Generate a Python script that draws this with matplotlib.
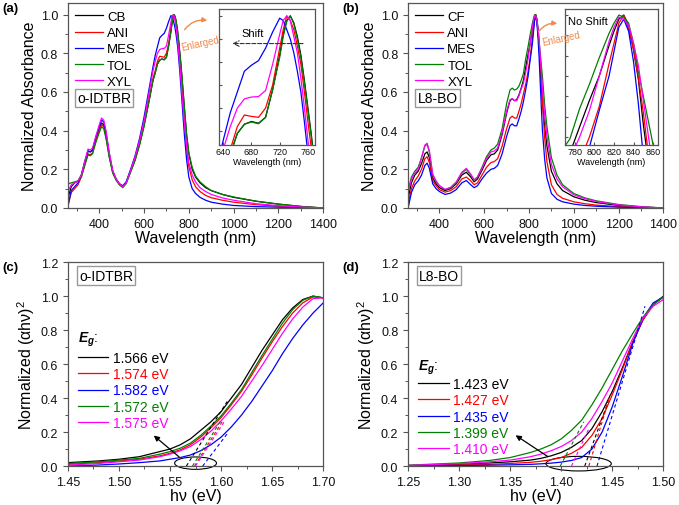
import matplotlib.pyplot as plt
from matplotlib.patches import Ellipse, FancyArrowPatch
from matplotlib.ticker import MultipleLocator, FormatStrFormatter

plt.rcParams['font.family'] = ['Liberation Sans', 'DejaVu Sans']
plt.rcParams['mathtext.fontset'] = 'custom'
plt.rcParams['mathtext.rm'] = 'Liberation Sans'
plt.rcParams['mathtext.it'] = 'Liberation Sans:italic'
plt.rcParams['mathtext.bf'] = 'Liberation Sans:bold:italic'

# ---- (a) o-IDTBR absorption ----
wl_a = [262, 275, 290, 305, 320, 335, 350, 360, 370, 385,
        400, 410, 420, 430, 445, 460, 475, 490, 505, 520,
        540, 560, 580, 600, 620, 640, 650, 660, 670, 680,
        690, 700, 710, 720, 725, 730, 735, 740, 745, 750,
        755, 760, 765, 770, 780, 790, 800, 815, 830, 850,
        875, 900, 950, 1000, 1100, 1200, 1300, 1400]
cb_a = [0.06, 0.11, 0.13, 0.14, 0.17, 0.24, 0.295, 0.29, 0.30, 0.36,
        0.41, 0.44, 0.43, 0.38, 0.27, 0.19, 0.15, 0.125, 0.11, 0.13,
        0.19, 0.25, 0.33, 0.43, 0.54, 0.66, 0.70, 0.745, 0.765, 0.771,
        0.767, 0.78, 0.84, 0.915, 0.96, 0.99, 1.0, 0.985, 0.955, 0.915,
        0.86, 0.80, 0.74, 0.67, 0.52, 0.38, 0.28, 0.20, 0.16, 0.13,
        0.105, 0.09, 0.07, 0.055, 0.035, 0.02, 0.008, 0.0]
ani_a = [0.02, 0.08, 0.10, 0.12, 0.16, 0.22, 0.28, 0.275, 0.285, 0.35,
         0.40, 0.43, 0.42, 0.37, 0.265, 0.185, 0.145, 0.12, 0.11, 0.13,
         0.19, 0.255, 0.335, 0.43, 0.55, 0.67, 0.71, 0.76, 0.785, 0.782,
         0.78, 0.80, 0.85, 0.93, 0.97, 1.0, 0.99, 0.97, 0.935, 0.895,
         0.835, 0.77, 0.71, 0.63, 0.45, 0.31, 0.215, 0.145, 0.11, 0.085,
         0.065, 0.053, 0.04, 0.03, 0.017, 0.009, 0.004, 0.0]
mes_a = [0.02, 0.09, 0.11, 0.13, 0.17, 0.23, 0.295, 0.29, 0.30, 0.37,
         0.42, 0.455, 0.445, 0.39, 0.28, 0.19, 0.15, 0.125, 0.115, 0.135,
         0.20, 0.27, 0.36, 0.47, 0.60, 0.73, 0.79, 0.835, 0.88, 0.893,
         0.903, 0.93, 0.965, 0.995, 0.99, 0.97, 0.95, 0.92, 0.88, 0.835,
         0.77, 0.70, 0.62, 0.54, 0.38, 0.25, 0.16, 0.10, 0.075, 0.055,
         0.04, 0.03, 0.02, 0.013, 0.007, 0.004, 0.002, 0.0]
tol_a = [0.125, 0.13, 0.135, 0.14, 0.16, 0.22, 0.275, 0.27, 0.28, 0.34,
         0.39, 0.42, 0.41, 0.36, 0.26, 0.18, 0.145, 0.12, 0.105, 0.125,
         0.185, 0.245, 0.325, 0.42, 0.54, 0.66, 0.70, 0.745, 0.765, 0.770,
         0.766, 0.78, 0.84, 0.91, 0.955, 0.988, 1.0, 0.983, 0.95, 0.91,
         0.855, 0.795, 0.735, 0.665, 0.52, 0.38, 0.285, 0.21, 0.165, 0.135,
         0.11, 0.09, 0.07, 0.057, 0.035, 0.02, 0.008, 0.0]
xyl_a = [0.09, 0.12, 0.13, 0.14, 0.17, 0.24, 0.305, 0.30, 0.31, 0.37,
         0.43, 0.465, 0.455, 0.40, 0.285, 0.195, 0.15, 0.125, 0.11, 0.13,
         0.195, 0.265, 0.35, 0.45, 0.58, 0.71, 0.76, 0.80, 0.82, 0.824,
         0.825, 0.838, 0.895, 0.96, 0.99, 1.0, 0.99, 0.955, 0.92, 0.865,
         0.80, 0.73, 0.66, 0.58, 0.44, 0.32, 0.235, 0.17, 0.135, 0.105,
         0.085, 0.07, 0.052, 0.04, 0.022, 0.012, 0.005, 0.0]
names_a = ['CB', 'ANI', 'MES', 'TOL', 'XYL']

# ---- (b) L8-BO absorption ----
wl_b = [262, 275, 290, 305, 320, 335, 345, 355, 370, 385,
        400, 425, 450, 475, 500, 520, 540, 555, 570, 590,
        610, 630, 645, 660, 680, 700, 715, 725, 735, 745,
        755, 765, 775, 785, 795, 805, 815, 820, 825, 830,
        835, 840, 845, 850, 855, 860, 870, 880, 900, 925,
        950, 1000, 1050, 1100, 1200, 1300, 1400]
cf_b = [0.06, 0.13, 0.17, 0.19, 0.23, 0.28, 0.29, 0.26, 0.155, 0.125,
        0.105, 0.09, 0.10, 0.125, 0.17, 0.185, 0.16, 0.135, 0.15, 0.195,
        0.245, 0.275, 0.28, 0.30, 0.38, 0.49, 0.555, 0.565, 0.555, 0.56,
        0.585, 0.62, 0.66, 0.725, 0.79, 0.85, 0.925, 0.96, 0.99, 1.0,
        0.975, 0.915, 0.84, 0.73, 0.64, 0.55, 0.42, 0.32, 0.19, 0.125,
        0.09, 0.058, 0.04, 0.028, 0.013, 0.005, 0.0]
ani_b = [0.03, 0.10, 0.14, 0.165, 0.20, 0.255, 0.265, 0.235, 0.14, 0.115,
         0.095, 0.082, 0.09, 0.11, 0.15, 0.16, 0.14, 0.12, 0.13, 0.17,
         0.21, 0.235, 0.24, 0.255, 0.32, 0.41, 0.465, 0.475, 0.465, 0.465,
         0.50, 0.54, 0.59, 0.64, 0.70, 0.775, 0.88, 0.93, 0.98, 1.0,
         0.965, 0.915, 0.845, 0.76, 0.66, 0.55, 0.36, 0.24, 0.12, 0.07,
         0.05, 0.032, 0.022, 0.015, 0.007, 0.003, 0.0]
mes_b = [0.01, 0.08, 0.12, 0.14, 0.17, 0.22, 0.232, 0.205, 0.125, 0.10,
         0.085, 0.07, 0.077, 0.095, 0.13, 0.142, 0.12, 0.105, 0.115, 0.15,
         0.18, 0.20, 0.205, 0.22, 0.28, 0.37, 0.425, 0.435, 0.425, 0.425,
         0.46, 0.50, 0.55, 0.61, 0.675, 0.765, 0.85, 0.91, 0.97, 0.99,
         0.96, 0.885, 0.78, 0.65, 0.52, 0.40, 0.25, 0.155, 0.075, 0.045,
         0.032, 0.02, 0.013, 0.009, 0.004, 0.002, 0.0]
tol_b = [0.10, 0.16, 0.19, 0.21, 0.26, 0.32, 0.33, 0.29, 0.17, 0.135,
         0.115, 0.095, 0.105, 0.13, 0.18, 0.20, 0.17, 0.145, 0.16, 0.21,
         0.265, 0.30, 0.31, 0.33, 0.41, 0.54, 0.61, 0.62, 0.61, 0.615,
         0.63, 0.66, 0.695, 0.77, 0.83, 0.895, 0.955, 0.98, 1.0, 0.995,
         0.98, 0.93, 0.86, 0.80, 0.74, 0.68, 0.53, 0.42, 0.26, 0.17,
         0.12, 0.075, 0.052, 0.037, 0.018, 0.007, 0.0]
xyl_b = [0.09, 0.15, 0.18, 0.20, 0.26, 0.325, 0.335, 0.295, 0.175, 0.14,
         0.115, 0.096, 0.107, 0.135, 0.185, 0.205, 0.175, 0.145, 0.16, 0.205,
         0.255, 0.29, 0.295, 0.31, 0.39, 0.50, 0.56, 0.565, 0.555, 0.555,
         0.58, 0.615, 0.645, 0.70, 0.765, 0.85, 0.935, 0.97, 0.995, 0.99,
         0.975, 0.93, 0.875, 0.79, 0.705, 0.62, 0.48, 0.37, 0.225, 0.15,
         0.11, 0.068, 0.048, 0.034, 0.016, 0.006, 0.0]
names_b = ['CF', 'ANI', 'MES', 'TOL', 'XYL']

# ---- (c) o-IDTBR Tauc plot ----
hv_c = [1.45, 1.48, 1.50, 1.52, 1.54, 1.55, 1.56, 1.57, 1.58, 1.59, 1.60,
        1.61, 1.62, 1.63, 1.64, 1.65, 1.66, 1.67, 1.68, 1.69, 1.70]
cb_c = [0.02, 0.03, 0.04, 0.055, 0.085, 0.10, 0.125, 0.16, 0.21, 0.26, 0.32,
        0.40, 0.48, 0.58, 0.68, 0.77, 0.86, 0.93, 0.98, 1.0, 0.99]
ani_c = [0.01, 0.02, 0.03, 0.04, 0.06, 0.075, 0.095, 0.125, 0.17, 0.225, 0.285,
         0.36, 0.44, 0.535, 0.635, 0.73, 0.82, 0.90, 0.96, 0.995, 0.99]
mes_c = [0.0, 0.006, 0.012, 0.02, 0.03, 0.04, 0.05, 0.065, 0.09, 0.125, 0.17,
         0.23, 0.30, 0.38, 0.47, 0.56, 0.66, 0.75, 0.83, 0.90, 0.96]
tol_c = [0.015, 0.025, 0.035, 0.045, 0.07, 0.085, 0.105, 0.135, 0.18, 0.235, 0.295,
         0.37, 0.45, 0.55, 0.65, 0.745, 0.84, 0.92, 0.975, 1.0, 0.99]
xyl_c = [0.005, 0.015, 0.025, 0.035, 0.055, 0.07, 0.09, 0.115, 0.155, 0.205, 0.265,
         0.335, 0.41, 0.50, 0.59, 0.685, 0.78, 0.865, 0.935, 0.985, 0.99]
eg_c = [1.566, 1.574, 1.582, 1.572, 1.575]
tan_hv_c = [1.606, 1.602, 1.606, 1.600, 1.603]
tan_y_c = [0.38, 0.27, 0.19, 0.27, 0.26]

# ---- (d) L8-BO Tauc plot ----
hv_d = [1.25, 1.30, 1.33, 1.35, 1.37, 1.38, 1.39, 1.40, 1.41,
        1.42, 1.43, 1.44, 1.45, 1.46, 1.47, 1.48, 1.49, 1.50]
cf_d = [0.003, 0.01, 0.018, 0.025, 0.035, 0.045, 0.06, 0.08, 0.11,
        0.15, 0.22, 0.32, 0.44, 0.58, 0.73, 0.86, 0.95, 1.0]
ani_d = [0.002, 0.006, 0.01, 0.015, 0.022, 0.028, 0.037, 0.05, 0.075,
         0.11, 0.18, 0.28, 0.42, 0.57, 0.73, 0.86, 0.95, 0.995]
mes_d = [0.001, 0.003, 0.005, 0.007, 0.01, 0.013, 0.017, 0.023, 0.033,
         0.05, 0.10, 0.20, 0.35, 0.53, 0.72, 0.87, 0.96, 0.995]
tol_d = [0.005, 0.018, 0.033, 0.05, 0.08, 0.10, 0.125, 0.16, 0.21,
         0.27, 0.36, 0.46, 0.57, 0.68, 0.78, 0.875, 0.95, 0.995]
xyl_d = [0.004, 0.014, 0.025, 0.035, 0.055, 0.07, 0.09, 0.115, 0.15,
         0.20, 0.28, 0.38, 0.49, 0.62, 0.75, 0.87, 0.94, 0.98]
eg_d = [1.423, 1.427, 1.435, 1.399, 1.410]
tan_hv_d = [1.446, 1.448, 1.482, 1.422, 1.427]
tan_y_d = [0.38, 0.42, 0.94, 0.26, 0.22]

colors = ['black', '#ff0000', '#0000ff', '#008000', '#ff00ff']
frame = '#555555'
orange = '#f08a4b'


def style_axes(ax, size=9, direction='out'):
    for s in ax.spines.values():
        s.set_color(frame)
        s.set_linewidth(0.9)
    ax.tick_params(which='both', direction=direction, colors=frame,
                   labelcolor='#111111', labelsize=size, top=False, right=False)
    ax.tick_params(which='major', length=3.5, width=0.8)
    ax.tick_params(which='minor', length=2, width=0.7)


def label_box(ax, x, y, text):
    ax.text(x, y, text, transform=ax.transAxes, ha='left', va='center', fontsize=10,
            bbox=dict(boxstyle='square,pad=0.15', fc='white', ec='#999999', lw=1))


def plot_absorption(ax, wl, series, names, tag):
    for y, c, n in zip(series, colors, names):
        ax.plot(wl, y, color=c, lw=0.9, label=n)
    ax.set_xlim(260, 1400)
    ax.set_ylim(0, 1.06)
    ax.xaxis.set_major_locator(MultipleLocator(200))
    ax.xaxis.set_minor_locator(MultipleLocator(100))
    ax.yaxis.set_major_locator(MultipleLocator(0.2))
    ax.yaxis.set_minor_locator(MultipleLocator(0.1))
    ax.yaxis.set_major_formatter(FormatStrFormatter('%.1f'))
    style_axes(ax)
    ax.set_xlabel('Wavelength (nm)', fontsize=11.5, labelpad=0)
    ax.set_ylabel('Normalized Absorbance', fontsize=11.5, labelpad=3)
    ax.legend(loc='upper left', bbox_to_anchor=(0.027, 0.962), frameon=False,
              fontsize=9.5, handlelength=2.1, handletextpad=0.35,
              labelspacing=0.3, borderpad=0, borderaxespad=0)
    label_box(ax, 0.037, 0.535, tag)


def plot_inset(ax, wl, series, xlim, ylim, step):
    for y, c in zip(series, colors):
        ax.plot(wl, y, color=c, lw=0.9)
    ax.set_xlim(*xlim)
    ax.set_ylim(*ylim)
    ax.xaxis.set_major_locator(MultipleLocator(step))
    ax.yaxis.set_major_locator(MultipleLocator(0.05))
    ax.set_yticklabels([])
    style_axes(ax, size=6.5, direction='in')
    ax.tick_params(which='major', length=2.5)
    ax.set_xlabel('Wavelength (nm)', fontsize=6.5, labelpad=1)
    ax.tick_params(axis='x', pad=1.5)


def plot_tauc(ax, hv, series, eg, tan_hv, tan_y, xlim, tag, leg_top, title_y):
    for y, c, e in zip(series, colors, eg):
        ax.plot(hv, y, color=c, lw=0.9, label='%.3f eV' % e)
    for e, tx, ty, c in zip(eg, tan_hv, tan_y, colors):
        ax.plot([e, tx], [0, ty], color=c, lw=0.8, ls=(0, (3, 2.5)))
    ax.set_xlim(*xlim)
    ax.set_ylim(0, 1.2)
    ax.xaxis.set_major_locator(MultipleLocator(0.05))
    ax.xaxis.set_minor_locator(MultipleLocator(0.025))
    ax.xaxis.set_major_formatter(FormatStrFormatter('%.2f'))
    ax.yaxis.set_major_locator(MultipleLocator(0.2))
    ax.yaxis.set_minor_locator(MultipleLocator(0.1))
    ax.yaxis.set_major_formatter(FormatStrFormatter('%.1f'))
    style_axes(ax)
    ax.set_xlabel('hν (eV)', fontsize=11.5, labelpad=0)
    ax.set_ylabel('Normalized (αhν)$^2$', fontsize=11.5, labelpad=3)
    label_box(ax, 0.043, 0.934, tag)
    leg = ax.legend(loc='upper left', bbox_to_anchor=(0.039, leg_top),
                    frameon=False, fontsize=10, handlelength=2.2, handletextpad=0.35,
                    labelspacing=0.16, borderpad=0, borderaxespad=0)
    for t, c in zip(leg.get_texts(), colors):
        t.set_color(c)
    ax.text(0.039, title_y, '$\\mathbf{E_g}$:', transform=ax.transAxes,
            fontsize=10, ha='left', va='center')


fig = plt.figure(figsize=(6.79, 5.06), dpi=100)

ax_a = fig.add_axes([0.100, 0.587, 0.376, 0.405])
ax_b = fig.add_axes([0.601, 0.587, 0.376, 0.405])
ax_c = fig.add_axes([0.100, 0.077, 0.376, 0.403])
ax_d = fig.add_axes([0.601, 0.077, 0.376, 0.403])

plot_absorption(ax_a, wl_a, [cb_a, ani_a, mes_a, tol_a, xyl_a], names_a, 'o-IDTBR')
plot_absorption(ax_b, wl_b, [cf_b, ani_b, mes_b, tol_b, xyl_b], names_b, 'L8-BO')

ins_a = fig.add_axes([0.3225, 0.7115, 0.1414, 0.2688])
plot_inset(ins_a, wl_a, [cb_a, ani_a, mes_a, tol_a, xyl_a], (634, 770), (0.72, 1.015), 40)
ins_a.annotate('', xy=(649, 0.94), xytext=(757, 0.94),
               arrowprops=dict(arrowstyle='->', ls='--', color='#333333', lw=0.8))
ins_a.text(682, 0.962, 'Shift', fontsize=8, ha='center', va='center')

ins_b = fig.add_axes([0.8321, 0.7115, 0.137, 0.2688])
plot_inset(ins_b, wl_b, [cf_b, ani_b, mes_b, tol_b, xyl_b], (770, 865), (0.68, 1.015), 20)
ins_b.text(0.03, 0.91, 'No Shift', transform=ins_b.transAxes, fontsize=8, ha='left', va='center')

# "Enlarged" arrows, drawn on the figure so they sit above the insets
for p0, p1, tp in [((0.2695, 0.9348), (0.3093, 0.9565), (0.2946, 0.913)),
                   ((0.7909, 0.9308), (0.8247, 0.9506), (0.8262, 0.9229))]:
    arr = FancyArrowPatch(p0, p1, transform=fig.transFigure, connectionstyle='arc3,rad=-0.35',
                          arrowstyle='-|>', mutation_scale=7, color=orange, lw=1.0)
    fig.patches.append(arr)
    fig.text(tp[0], tp[1], 'Enlarged', color=orange, fontsize=7,
             rotation=12, ha='center', va='center')

plot_tauc(ax_c, hv_c, [cb_c, ani_c, mes_c, tol_c, xyl_c], eg_c, tan_hv_c, tan_y_c,
          (1.45, 1.70), 'o-IDTBR', 0.564, 0.6225)
plot_tauc(ax_d, hv_d, [cf_d, ani_d, mes_d, tol_d, xyl_d], eg_d, tan_hv_d, tan_y_d,
          (1.25, 1.50), 'L8-BO', 0.436, 0.488)

ax_c.add_patch(Ellipse((1.575, 0.017), 0.041, 0.073, fill=False, ec='black', lw=0.8, clip_on=False))
ax_c.annotate('', xy=(1.532, 0.19), xytext=(1.561, 0.043),
              arrowprops=dict(arrowstyle='-|>', color='black', lw=0.9, mutation_scale=8))
ax_d.add_patch(Ellipse((1.417, 0.014), 0.064, 0.086, fill=False, ec='black', lw=0.8, clip_on=False))
ax_d.annotate('', xy=(1.353, 0.19), xytext=(1.389, 0.047),
              arrowprops=dict(arrowstyle='-|>', color='black', lw=0.9, mutation_scale=8))

for x, y, t in [(0.003, 0.983, '(a)'), (0.504, 0.983, '(b)'),
                (0.003, 0.471, '(c)'), (0.504, 0.471, '(d)')]:
    fig.text(x, y, t, fontsize=9.5, fontweight='bold', va='center', ha='left')

fig.savefig('out.png', dpi=100)
